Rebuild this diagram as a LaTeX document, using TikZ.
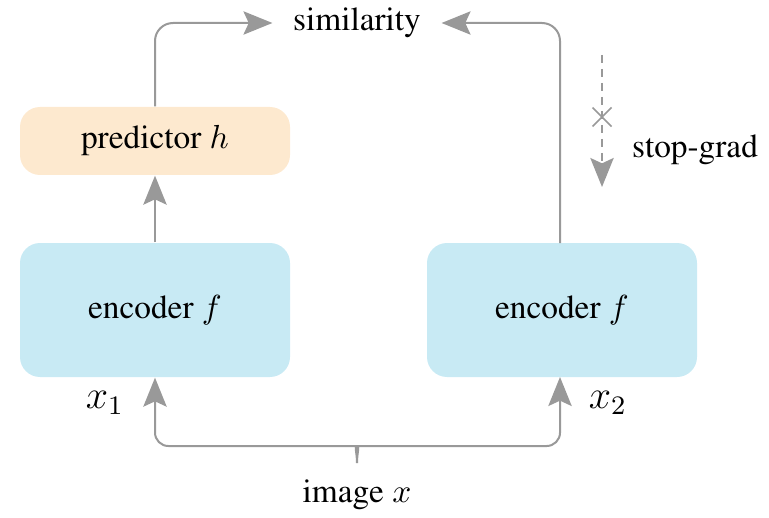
\documentclass[tikz,border=0pt]{standalone}
\usepackage[T1]{fontenc}
\usepackage{times}
\usetikzlibrary{arrows.meta}
\definecolor{encblue}{RGB}{200,234,244}
\definecolor{predorange}{RGB}{253,233,207}
\definecolor{arrgray}{RGB}{153,153,153}
\tikzset{
  box/.style={rounded corners=6pt, minimum width=81pt, inner sep=0pt, font=\fontsize{10}{12}\selectfont},
  encbox/.style={box, fill=encblue, minimum height=40.2pt},
  predbox/.style={box, fill=predorange, minimum height=20.4pt},
  arr/.style={draw=arrgray, line width=0.6pt, -{Stealth[length=8.7pt, width=7pt, inset=1.6pt, color=arrgray]}},
  lbl/.style={font=\fontsize{10}{12}\selectfont, inner sep=0pt},
  xlbl/.style={font=\fontsize{11.5}{13}\selectfont, inner sep=0pt},
}
\begin{document}
\begin{tikzpicture}[x=0.3pt, y=-0.3pt]
\useasboundingbox (0,0) rectangle (769,518);
\node[encbox] (encL) at (155,310) {encoder $f$};
\node[encbox] (encR) at (562,310) {encoder $f$};
\node[predbox] (pred) at (155,141) {predictor $h$};
\node[lbl, inner xsep=6pt] (sim) at (357,23) {similarity};
\node[lbl] (sg) at (695,150) {stop-grad};
\node[xlbl] (x1) at (105,403) {$x_1$};
\node[xlbl] (x2) at (608,403) {$x_2$};
\node[lbl] (img) at (357,495) {image $x$};
\coordinate (cusp) at (357,463);
\coordinate (sgtop) at (602,55);
\coordinate (sgbot) at (602,187);
\coordinate (sgx) at (602,117);
\coordinate (rtop) at (560,243);
\coordinate (rbot) at (560,377);

\draw[arr] (encL.north) -- (pred.south);
\draw[arr, rounded corners=5.4pt] (pred.north) |- (sim.west);
\draw[arr, rounded corners=5.4pt] (rtop) |- (sim.east);
\draw[arr, dash pattern=on 2.4pt off 1.8pt] (sgtop) -- (sgbot);
\draw[draw=arrgray, line width=0.45pt] ([shift={(-9.5,-9.5)}]sgx) -- ([shift={(9.5,9.5)}]sgx)
      ([shift={(-9.5,9.5)}]sgx) -- ([shift={(9.5,-9.5)}]sgx);
\draw[arr, rounded corners=4pt] (cusp) .. controls (357,452) and (354,446) .. (344,446) -- (155,446) -- (encL.south);
\draw[arr, rounded corners=4pt] (cusp) .. controls (357,452) and (360,446) .. (370,446) -- (560,446) -- (rbot);
\end{tikzpicture}
\end{document}
